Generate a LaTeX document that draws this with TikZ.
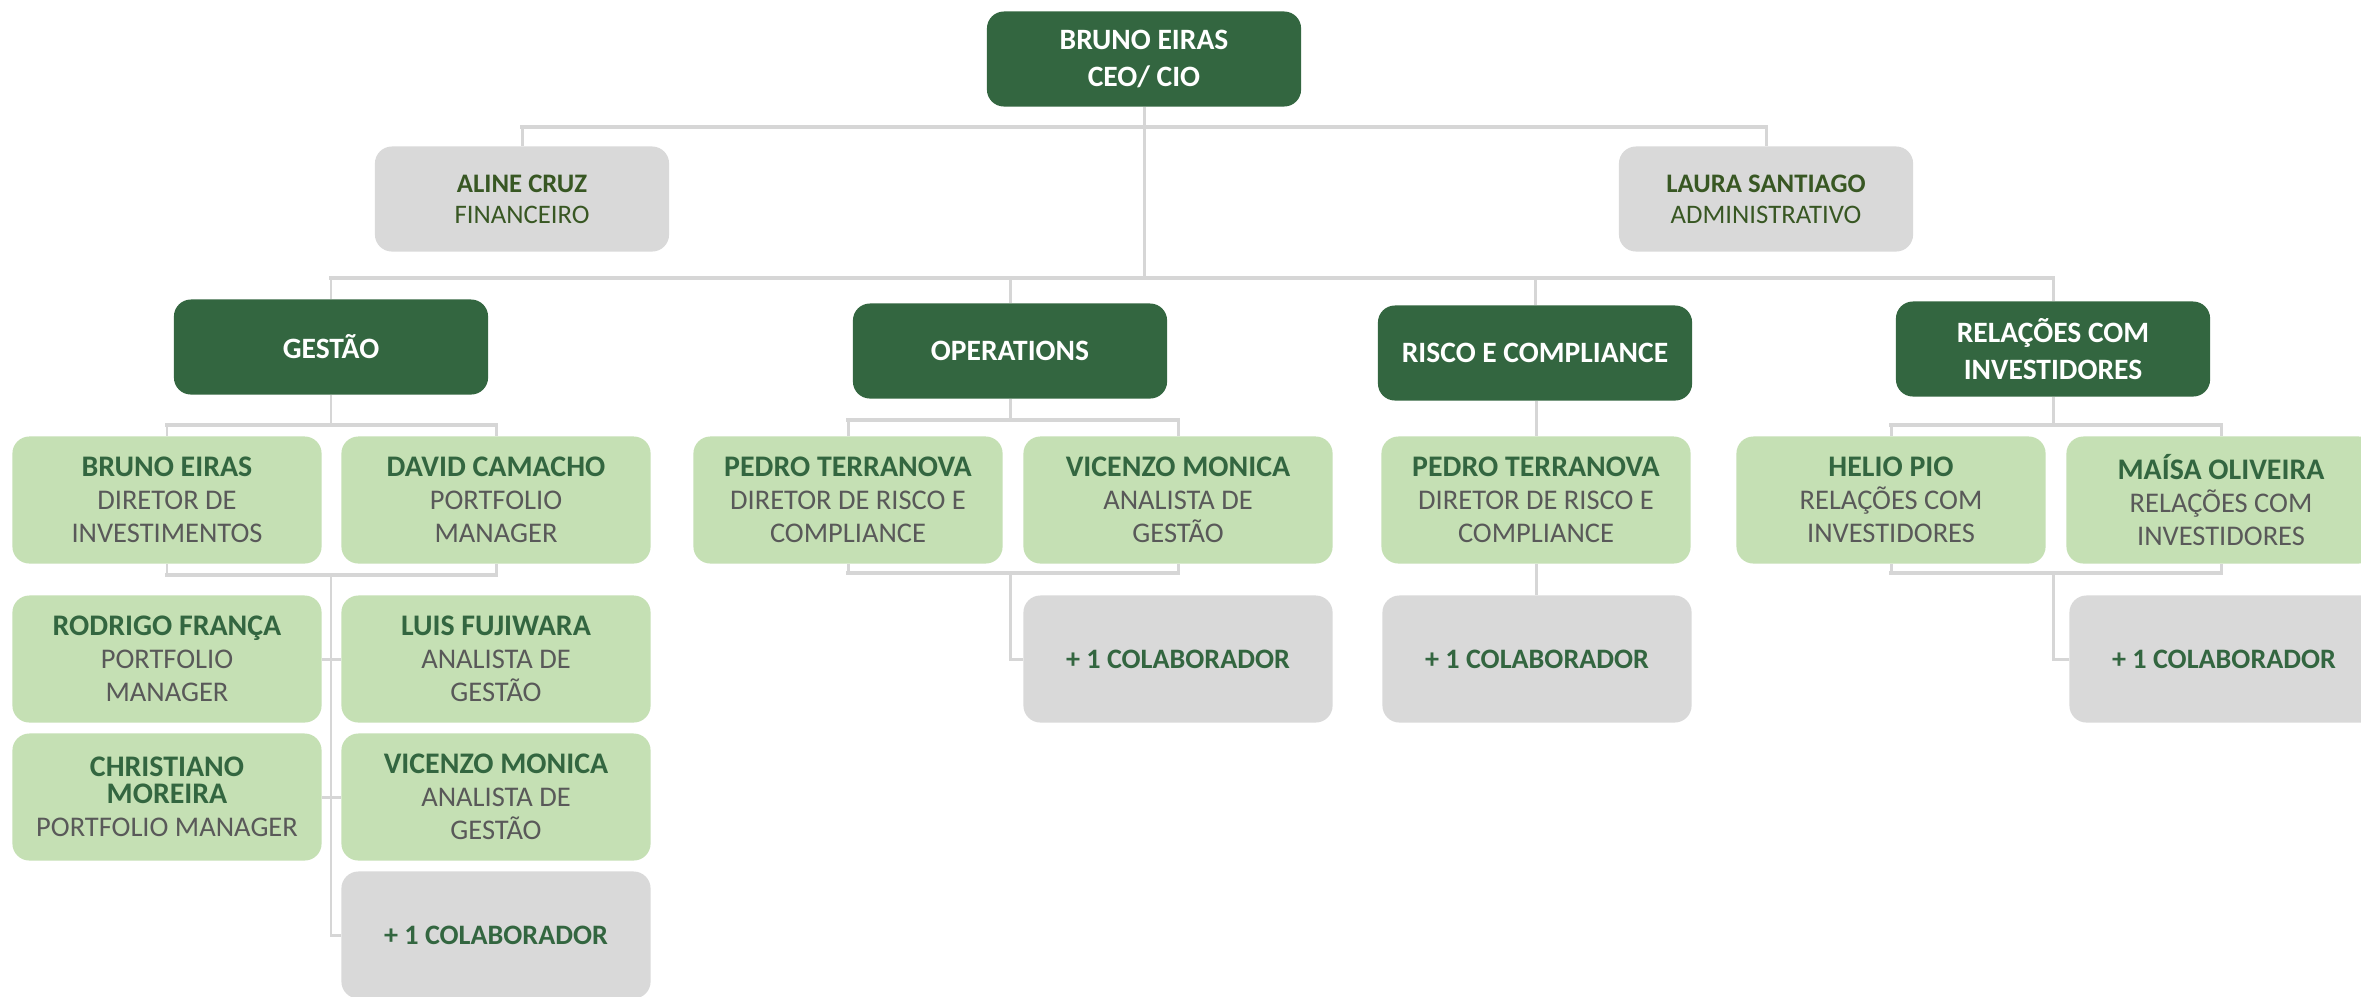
\documentclass[tikz,border=0pt]{standalone}
\usepackage{fontspec}
\setmainfont{Carlito}
\definecolor{verdeescuro}{RGB}{51,102,64}
\definecolor{verdeclaro}{RGB}{197,224,180}
\definecolor{cinzaclaro}{RGB}{217,217,217}
\definecolor{cinzalinha}{RGB}{214,214,214}
\definecolor{cinzatexto}{RGB}{89,89,89}
\definecolor{verdetexto}{RGB}{56,87,35}
\newcommand{\nome}[1]{{\bfseries\fontsize{8.5}{9.4}\selectfont\color{verdeescuro}#1}}
\newcommand{\cargo}[1]{{\color{cinzatexto}#1}}

\begin{document}
\begin{tikzpicture}[x=0.01cm, y=-0.01cm,
	caixa/.style={rounded corners=0.17cm, align=center, inner sep=0pt},
	chefe/.style={caixa, fill=verdeescuro, text=white, minimum width=3.14cm, minimum height=0.95cm,
		font=\bfseries\fontsize{8.4}{10.4}\selectfont},
	apoio/.style={caixa, fill=cinzaclaro, text=verdetexto, minimum width=2.94cm, minimum height=1.05cm,
		font=\fontsize{7.6}{8.9}\selectfont},
	membro/.style={caixa, fill=verdeclaro, minimum width=3.09cm, minimum height=1.27cm,
		font=\fontsize{8.1}{9.4}\selectfont},
	extra/.style={caixa, fill=cinzaclaro, text=verdeescuro, minimum width=3.09cm, minimum height=1.27cm,
		font=\bfseries\fontsize{8}{9}\selectfont},
	ligacao/.style={draw=cinzalinha, line width=0.85pt},
	barra/.style={draw=cinzalinha, line width=1.15pt, line cap=rect}]

	\path[use as bounding box, fill=white] (0,0) rectangle (2361,996);

	% diretoria
	\node[chefe] (ceo) at (1144,59) {BRUNO EIRAS\\CEO/ CIO};
	\node[apoio] (aline) at (522,199) {\textbf{ALINE CRUZ}\\FINANCEIRO};
	\node[apoio] (laura) at (1766,199) {\textbf{LAURA SANTIAGO}\\ADMINISTRATIVO};

	% areas
	\node[chefe] (gestao) at (331,347) {GESTÃO};
	\node[chefe] (oper) at (1010,351) {OPERATIONS};
	\node[chefe] (risco) at (1535,353) {RISCO E COMPLIANCE};
	\node[chefe] (relac) at (2053,349) {RELAÇÕES COM\\INVESTIDORES};

	% gestao
	\node[membro] (g1) at (167,500) {\nome{BRUNO EIRAS}\\\cargo{DIRETOR DE}\\\cargo{INVESTIMENTOS}};
	\node[membro] (g2) at (496,500) {\nome{DAVID CAMACHO}\\\cargo{PORTFOLIO}\\\cargo{MANAGER}};
	\node[membro] (g3) at (167,659) {\nome{RODRIGO FRANÇA}\\\cargo{PORTFOLIO}\\\cargo{MANAGER}};
	\node[membro] (g4) at (496,659) {\nome{LUIS FUJIWARA}\\\cargo{ANALISTA DE}\\\cargo{GESTÃO}};
	\node[membro] (g5) at (167,797) {\nome{CHRISTIANO}\\[-1.8pt]\nome{MOREIRA}\\\cargo{PORTFOLIO MANAGER}};
	\node[membro] (g6) at (496,797) {\nome{VICENZO MONICA}\\\cargo{ANALISTA DE}\\\cargo{GESTÃO}};
	\node[extra] (g7) at (496,935) {+ 1 COLABORADOR};

	% operations
	\node[membro] (o1) at (848,500) {\nome{PEDRO TERRANOVA}\\\cargo{DIRETOR DE RISCO E}\\\cargo{COMPLIANCE}};
	\node[membro] (o2) at (1178,500) {\nome{VICENZO MONICA}\\\cargo{ANALISTA DE}\\\cargo{GESTÃO}};
	\node[extra] (o3) at (1178,659) {+ 1 COLABORADOR};

	% risco
	\node[membro] (r1) at (1536,500) {\nome{PEDRO TERRANOVA}\\\cargo{DIRETOR DE RISCO E}\\\cargo{COMPLIANCE}};
	\node[extra] (r2) at (1537,659) {+ 1 COLABORADOR};

	% relacoes com investidores
	\node[membro] (h1) at (1891,500) {\nome{HELIO PIO}\\\cargo{RELAÇÕES COM}\\\cargo{INVESTIDORES}};
	\node[membro] (h2) at (2221,500) {\nome{MAÍSA OLIVEIRA}\\\cargo{RELAÇÕES COM}\\\cargo{INVESTIDORES}};
	\node[extra] (h3) at (2224,659) {+ 1 COLABORADOR};

	% barras
	\coordinate (barra1) at (0,127);
	\coordinate (barra2) at (0,278);
	\coordinate (gtopo) at (0,425);
	\coordinate (gbase) at (0,575);
	\coordinate (otopo) at (0,420);
	\coordinate (obase) at (0,573);
	\coordinate (htopo) at (0,425);
	\coordinate (hbase) at (0,573);

	% ligacoes do ceo
	\draw[ligacao] (ceo.south) -- (ceo.south |- barra2);
	\draw[barra] (aline.north |- barra1) -- (laura.north |- barra1);
	\draw[ligacao] (aline.north |- barra1) -- (aline.north);
	\draw[ligacao] (laura.north |- barra1) -- (laura.north);
	\draw[barra] (gestao.north |- barra2) -- (relac.north |- barra2);
	\foreach \area in {gestao,oper,risco,relac}
		\draw[ligacao] (\area.north |- barra2) -- (\area.north);

	% ligacoes gestao
	\draw[ligacao] (gestao.south) -- (gestao.south |- gtopo);
	\draw[barra] (g1.north |- gtopo) -- (g2.north |- gtopo);
	\draw[ligacao] (g1.north |- gtopo) -- (g1.north);
	\draw[ligacao] (g2.north |- gtopo) -- (g2.north);
	\draw[ligacao] (g1.south) -- (g1.south |- gbase);
	\draw[ligacao] (g2.south) -- (g2.south |- gbase);
	\draw[barra] (g1.south |- gbase) -- (g2.south |- gbase);
	\draw[ligacao] (gestao.south |- gbase) |- (g7.west);
	\draw[ligacao] (g3.east) -- (g4.west);
	\draw[ligacao] (g5.east) -- (g6.west);

	% ligacoes operations
	\draw[ligacao] (oper.south) -- (oper.south |- otopo);
	\draw[barra] (o1.north |- otopo) -- (o2.north |- otopo);
	\draw[ligacao] (o1.north |- otopo) -- (o1.north);
	\draw[ligacao] (o2.north |- otopo) -- (o2.north);
	\draw[ligacao] (o1.south) -- (o1.south |- obase);
	\draw[ligacao] (o2.south) -- (o2.south |- obase);
	\draw[barra] (o1.south |- obase) -- (o2.south |- obase);
	\draw[ligacao] (oper.south |- obase) |- (o3.west);

	% ligacoes risco
	\draw[ligacao] (r1.north |- risco.south) -- (r1.north);
	\draw[ligacao] (r1.south) -- (r1.south |- r2.north);

	% ligacoes relacoes
	\draw[ligacao] (relac.south) -- (relac.south |- htopo);
	\draw[barra] (h1.north |- htopo) -- (h2.north |- htopo);
	\draw[ligacao] (h1.north |- htopo) -- (h1.north);
	\draw[ligacao] (h2.north |- htopo) -- (h2.north);
	\draw[ligacao] (h1.south) -- (h1.south |- hbase);
	\draw[ligacao] (h2.south) -- (h2.south |- hbase);
	\draw[barra] (h1.south |- hbase) -- (h2.south |- hbase);
	\draw[ligacao] (relac.south |- hbase) |- (h3.west);

\end{tikzpicture}
\end{document}
